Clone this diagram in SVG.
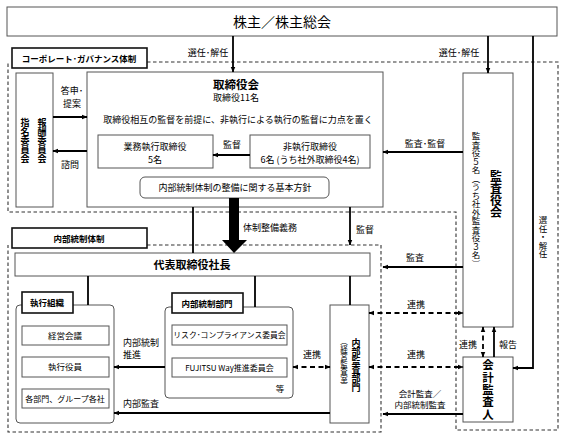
<svg xmlns="http://www.w3.org/2000/svg" width="566" height="440" viewBox="0 0 566 440">
<style>
text{font-family:"Noto Sans CJK JP","Liberation Sans",sans-serif;fill:#000;}
.t9{font-size:9px;}
.t8{font-size:8.5px;}
.b{font-weight:bold;}
.c{text-anchor:middle;}
.v{writing-mode:vertical-rl;text-anchor:middle;dominant-baseline:central;}
.box{fill:#fff;stroke:#555;stroke-width:1;}
.lbl{fill:#fff;stroke:#111;stroke-width:1.6;}
.dash{fill:none;stroke:#333;stroke-width:1.1;stroke-dasharray:3.5,2.5;}
.ln{fill:none;stroke:#000;stroke-width:1.8;}
.dl{fill:none;stroke:#000;stroke-width:1.8;stroke-dasharray:5,3.5;}
</style>
<defs>
<marker id="ah" viewBox="0 0 10 10" refX="9" refY="5" markerWidth="6" markerHeight="6" markerUnits="userSpaceOnUse" orient="auto-start-reverse">
<path d="M0,1 L10,5 L0,9 z" fill="#000"/>
</marker>
</defs>
<rect width="566" height="440" fill="#fff"/>

<g id="regions">
<path class="dash" d="M147,62 H558 V430 H456 V212 H8 V62"/>
<path class="dash" d="M147,245 H381 V432 H8 V245"/>
</g>

<g id="shareholders">
<rect class="box" x="7" y="7" width="550" height="29"/>
<text x="282" y="27" class="c" style="font-size:14px">株主／株主総会</text>
</g>

<g id="cg-label">
<rect class="lbl" x="12" y="48" width="135" height="20"/>
<text x="79" y="62" class="c b t8">コーポレート･ガバナンス体制</text>
</g>

<g id="committees">
<rect class="box" x="16" y="73" width="37" height="134"/>
<text x="42" y="141" class="v b" style="font-size:9px">報酬委員会</text>
<text x="25" y="141" class="v b" style="font-size:9px">指名委員会</text>
</g>

<g id="board">
<rect class="box" x="87" y="72" width="296" height="135"/>
<text x="236" y="89" class="c b" style="font-size:11.5px">取締役会</text>
<text x="236" y="101" class="c t9">取締役11名</text>
<text x="238" y="123" class="c t9">取締役相互の監督を前提に、非執行による執行の監督に力点を置く</text>
</g>

<g id="exec-directors">
<rect class="box" x="98" y="135" width="115" height="33"/>
<text x="155" y="150" class="c t9">業務執行取締役</text>
<text x="155" y="163" class="c t9">5名</text>
</g>

<g id="nonexec-directors">
<rect class="box" x="250" y="135" width="120" height="33"/>
<text x="310" y="150" class="c t9">非執行取締役</text>
<text x="310" y="163" class="c t9">6名 (うち社外取締役4名)</text>
</g>

<g id="policy">
<rect class="box" x="140" y="177" width="189" height="21" rx="5"/>
<text x="235" y="191" class="c t9">内部統制体制の整備に関する基本方針</text>
</g>

<g id="auditors">
<rect class="box" x="463" y="73" width="50" height="254"/>
<text x="496" y="194" class="v b" style="font-size:12px">監査役会</text>
<text x="476" y="200" class="v" style="font-size:8.5px">監査役５名（うち社外監査役３名）</text>
</g>

<g id="accounting-auditor">
<rect class="box" x="463" y="357" width="50" height="65"/>
<text x="488" y="390" class="v b" style="font-size:11.5px;letter-spacing:0.8px">会計監査人</text>
</g>

<g id="ic-label">
<rect class="lbl" x="12" y="228" width="135" height="20"/>
<text x="79" y="242" class="c b t8">内部統制体制</text>
</g>

<g id="president">
<rect class="box" x="15" y="253" width="355" height="23"/>
<text x="192" y="269" class="c b" style="font-size:11px">代表取締役社長</text>
</g>

<g id="exec-org">
<rect class="box" x="16" y="305" width="98" height="118" rx="4"/>
<rect class="lbl" x="22" y="292" width="51" height="21"/>
<text x="47" y="306" class="c b t8">執行組織</text>
<rect class="box" x="22" y="326" width="87" height="19"/>
<text x="65" y="339" class="c t8">経営会議</text>
<rect class="box" x="22" y="357" width="87" height="20"/>
<text x="65" y="370" class="c t8">執行役員</text>
<rect class="box" x="22" y="389" width="87" height="19"/>
<text x="65" y="402" class="c" style="font-size:8px">各部門、グループ各社</text>
</g>

<g id="ic-dept">
<rect class="box" x="165" y="307" width="128" height="91" rx="4"/>
<rect class="lbl" x="172" y="293" width="71" height="20"/>
<text x="207" y="307" class="c b t8">内部統制部門</text>
<rect class="box" x="172" y="325" width="115" height="20"/>
<text x="229.5" y="338" class="c" style="font-size:7.8px">リスク･コンプライアンス委員会</text>
<rect class="box" x="172" y="358" width="115" height="19"/>
<text x="229.5" y="371" class="c" style="font-size:8px">FUJITSU Way推進委員会</text>
<text x="280" y="392" class="c t8">等</text>
</g>

<g id="internal-audit">
<rect class="box" x="330" y="305" width="39" height="118"/>
<text x="356" y="365" class="v b" style="font-size:9px">内部監査部門</text>
<text x="344" y="364" class="v" style="font-size:7.5px">（経営監査室）</text>
</g>

<g id="connectors">
<path class="ln" d="M233,36 V72" marker-end="url(#ah)"/>
<path class="ln" d="M488,36 V73" marker-end="url(#ah)"/>
<path class="ln" d="M533,36 V368 H513" marker-end="url(#ah)"/>
<path class="ln" d="M53,117 H87" marker-end="url(#ah)"/>
<path class="ln" d="M87,151 H53" marker-end="url(#ah)"/>
<path class="ln" d="M250,155 H213" marker-end="url(#ah)"/>
<path class="ln" d="M463,152 H383" marker-end="url(#ah)"/>
<path class="ln" d="M193,207 V253"/>
<polygon points="229,198 239,198 239,240 247,240 234,253 222,240 229,240" fill="#000"/>
<path class="ln" d="M350,207 V245" marker-end="url(#ah)"/>
<path class="ln" d="M463,267 H383" marker-end="url(#ah)"/>
<path class="ln" d="M88,276 V305"/>
<path class="ln" d="M255,276 V307"/>
<path class="ln" d="M350,276 V305"/>
<path class="ln" d="M165,367 H114" marker-end="url(#ah)"/>
<path class="ln" d="M330,413 H114" marker-end="url(#ah)"/>
<path class="dl" d="M293,367 H330" marker-start="url(#ah)" marker-end="url(#ah)"/>
<path class="dl" d="M369,313 H463" marker-start="url(#ah)" marker-end="url(#ah)"/>
<path class="dl" d="M369,367 H463" marker-start="url(#ah)" marker-end="url(#ah)"/>
<path class="ln" d="M463,414 H383" marker-end="url(#ah)"/>
<path class="dl" d="M483,327 V357" marker-start="url(#ah)" marker-end="url(#ah)"/>
<path class="ln" d="M494,357 V327" marker-end="url(#ah)"/>

<text x="208" y="56" class="c t9">選任･解任</text>
<text x="459" y="56" class="c t9">選任･解任</text>
<text x="543" y="237" class="v" style="font-size:8.5px">選任・解任</text>
<text x="72" y="94" class="c t9">答申･</text>
<text x="72" y="107" class="c t9">提案</text>
<text x="70" y="168" class="c t9">諮問</text>
<text x="232" y="148" class="c t9">監督</text>
<text x="425" y="147" class="c t9">監査･監督</text>
<text x="243" y="231" class="t9">体制整備義務</text>
<text x="365" y="233" class="c t9">監督</text>
<text x="415" y="261" class="c t9">監査</text>
<text x="123" y="346" class="t9">内部統制</text>
<text x="123" y="358" class="t9">推進</text>
<text x="123" y="407" class="t9">内部監査</text>
<text x="312" y="358" class="c t9">連携</text>
<text x="416" y="308" class="c t9">連携</text>
<text x="416" y="358" class="c t9">連携</text>
<text x="420" y="397" class="c t8">会計監査／</text>
<text x="420" y="408" class="c t8">内部統制監査</text>
<text x="468" y="348" class="c t9">連携</text>
<text x="508" y="348" class="c t9">報告</text>
</g>
</svg>
